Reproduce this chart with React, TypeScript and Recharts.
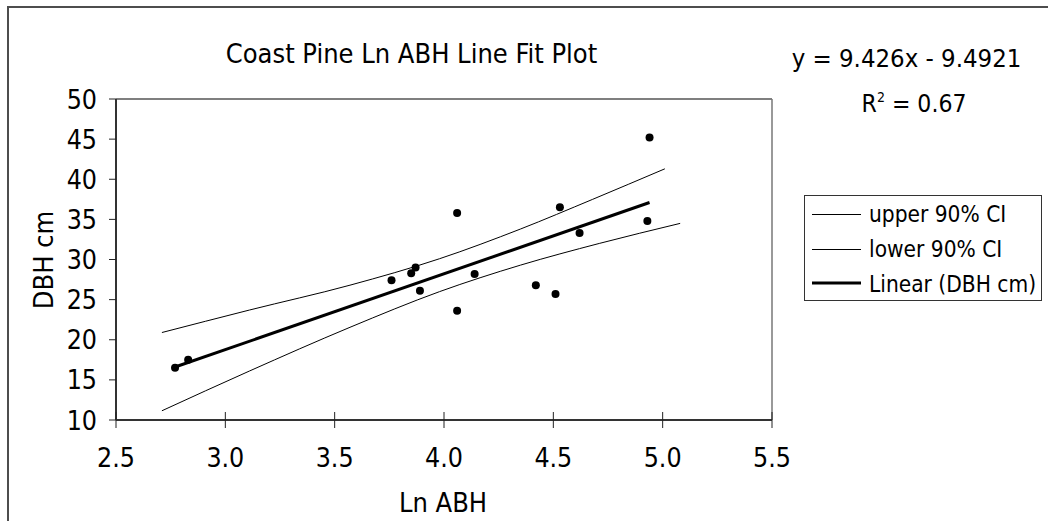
import React from 'react';
import { ScatterChart, Scatter, XAxis, YAxis, ReferenceLine } from 'recharts';

// Observed data
const lnABH = [2.77, 2.83, 3.76, 3.85, 3.87, 3.89, 4.06, 4.06, 4.14, 4.42, 4.51, 4.53, 4.62, 4.93, 4.94];
const dbhCm = [16.5, 17.5, 27.4, 28.3, 29.0, 26.1, 35.8, 23.6, 28.2, 26.8, 25.7, 36.5, 33.3, 34.8, 45.2];

// Linear trend (DBH cm) endpoints
const trendX = [2.77, 4.94];
const trendY = [16.6, 37.1];

// Upper 90% CI
const upperX = [2.71, 3.11, 3.57, 3.98, 4.35, 4.68, 5.01];
const upperY = [20.9, 23.7, 26.8, 30.1, 33.8, 37.5, 41.3];

// Lower 90% CI
const lowerX = [2.71, 3.11, 3.57, 3.98, 4.35, 4.71, 5.08];
const lowerY = [11.15, 16.1, 21.55, 26.0, 29.3, 32.0, 34.5];

const xTicks = [2.5, 3.0, 3.5, 4.0, 4.5, 5.0, 5.5];
const yTicks = [10, 15, 20, 25, 30, 35, 40, 45, 50];

const legendLabels = ['upper 90% CI', 'lower 90% CI', 'Linear (DBH cm)'];
const titleText = 'Coast Pine Ln ABH Line Fit Plot';
const equationText = 'y = 9.426x - 9.4921';
const xLabel = 'Ln ABH';
const yLabel = 'DBH cm';

const zip = (xs: number[], ys: number[]) => xs.map((x, i) => ({ x, y: ys[i] }));
const points = zip(lnABH, dbhCm);
const trend = zip(trendX, trendY);
const upper = zip(upperX, upperY);
const lower = zip(lowerX, lowerY);

const FONT = "'DejaVu Sans Condensed', Tahoma, 'DejaVu Sans', sans-serif";

const NoShape = () => <g />;
const Dot = (p: any) => <circle cx={p.cx} cy={p.cy} r={4} fill="#000" />;

const XTick = (p: any) => {
  const { x, y, payload } = p;
  return (
    <g>
      <line x1={x} x2={x} y1={y - 8} y2={y + 8} stroke="#222" strokeWidth={1} />
      <text x={x} y={y + 47} textAnchor="middle" fontSize={26.5} fontFamily={FONT} fill="#000">
        {Number(payload.value).toFixed(1)}
      </text>
    </g>
  );
};

const YTick = (p: any) => {
  const { x, y, payload } = p;
  return (
    <g>
      <line x1={x - 7} x2={x} y1={y} y2={y} stroke="#222" strokeWidth={1} />
      <text x={x - 19} y={y + 9.5} textAnchor="end" fontSize={26.5} fontFamily={FONT} fill="#000">
        {payload.value}
      </text>
    </g>
  );
};

export default function App() {
  return (
    <div style={{ position: 'absolute', left: 0, top: 0, width: 1048, height: 521, background: '#fff', overflow: 'hidden' }}>
      <ScatterChart width={1048} height={521} margin={{ top: 99, right: 276, bottom: 0, left: 0 }}>
        <XAxis
          type="number"
          dataKey="x"
          domain={[2.5, 5.5]}
          ticks={xTicks}
          interval={0}
          height={101}
          tickSize={0}
          tickMargin={0}
          tickLine={false}
          axisLine={{ stroke: '#333', strokeWidth: 2 }}
          tick={XTick}
          allowDataOverflow
        />
        <YAxis
          type="number"
          dataKey="y"
          domain={[10, 50]}
          ticks={yTicks}
          interval={0}
          width={116}
          tickSize={0}
          tickMargin={0}
          tickLine={false}
          axisLine={{ stroke: '#333', strokeWidth: 2 }}
          tick={YTick}
          allowDataOverflow
        />
        <ReferenceLine y={50} stroke="#555" strokeWidth={1.5} />
        <ReferenceLine x={5.5} stroke="#777" strokeWidth={1.5} />
        <Scatter data={upper} line={{ stroke: '#000', strokeWidth: 1 }} lineJointType="monotoneX" shape={NoShape} isAnimationActive={false} legendType="none" />
        <Scatter data={lower} line={{ stroke: '#000', strokeWidth: 1 }} lineJointType="monotoneX" shape={NoShape} isAnimationActive={false} legendType="none" />
        <Scatter data={trend} line={{ stroke: '#000', strokeWidth: 3 }} shape={NoShape} isAnimationActive={false} legendType="none" />
        <Scatter data={points} shape={Dot} isAnimationActive={false} legendType="none" />
      </ScatterChart>
      <svg width={1048} height={521} style={{ position: 'absolute', left: 0, top: 0, pointerEvents: 'none' }}>
        <path d="M8,521 V7 H1048" fill="none" stroke="#4d4d4d" strokeWidth={2} />
        <text x={411.5} y={63} textAnchor="middle" fontSize={27} fontFamily={FONT} fill="#000">{titleText}</text>
        <text x={906.5} y={67} textAnchor="middle" fontSize={25.5} fontFamily={FONT} fill="#000">{equationText}</text>
        <text x={914} y={112} textAnchor="middle" fontSize={24.5} fontFamily={FONT} fill="#000">
          R<tspan fontSize={14} dy={-10}>2</tspan><tspan dy={10}> = 0.67</tspan>
        </text>
        <text x={443} y={512} textAnchor="middle" fontSize={27} fontFamily={FONT} fill="#000">{xLabel}</text>
        <text x={53} y={260} textAnchor="middle" fontSize={27} fontFamily={FONT} fill="#000" transform="rotate(-90 53 260)">{yLabel}</text>
        <rect x={804.5} y={195.5} width={237} height={105} fill="#fff" stroke="#333" strokeWidth={1} />
        <line x1={812} x2={861} y1={214.5} y2={214.5} stroke="#000" strokeWidth={1} />
        <line x1={812} x2={861} y1={249.5} y2={249.5} stroke="#000" strokeWidth={1} />
        <line x1={812} x2={861} y1={283} y2={283} stroke="#000" strokeWidth={3} />
        <text x={869} y={222} fontSize={22.5} fontFamily={FONT} fill="#000">{legendLabels[0]}</text>
        <text x={869} y={257} fontSize={22.5} fontFamily={FONT} fill="#000">{legendLabels[1]}</text>
        <text x={869} y={292} fontSize={22.5} fontFamily={FONT} fill="#000">{legendLabels[2]}</text>
      </svg>
    </div>
  );
}
